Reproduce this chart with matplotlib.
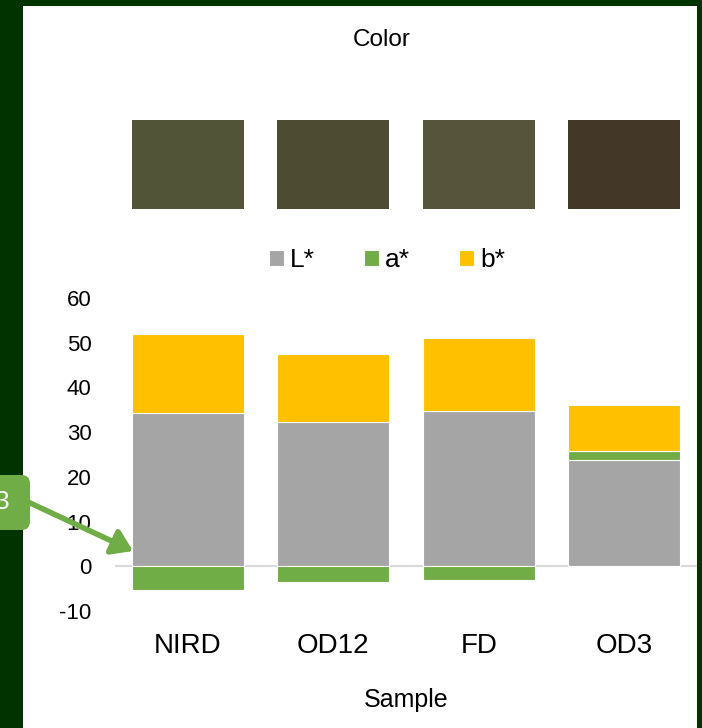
import matplotlib.pyplot as plt
import numpy as np
from matplotlib.patches import Rectangle, FancyBboxPatch, FancyArrowPatch

plt.rcParams['font.family'] = ['Liberation Sans', 'DejaVu Sans']
plt.rcParams['axes.unicode_minus'] = False

# colour measurements per sample
samples = ['NIRD', 'OD12', 'FD', 'OD3']
L_star = [34.2, 32.2, 34.7, 23.7]
a_star = [-5.2, -3.6, -3.1, 2.0]
b_star = [17.7, 15.3, 16.3, 10.3]
swatch_colors = ['#525438', '#4e4b33', '#56553b', '#433828']

W, H = 702, 728
fig = plt.figure(figsize=(W / 100, H / 100), dpi=100, facecolor='#003300')

def fx(px):
    return px / W

def fy(py):
    return 1 - py / H

# white panel
fig.patches.append(Rectangle((fx(23), 0), fx(697) - fx(23), fy(6), transform=fig.transFigure,
                             facecolor='white', edgecolor='none', zorder=-1))

fig.text(fx(382), fy(40), 'Color', ha='center', va='center', fontsize=17.5)

x = np.arange(len(samples))
width = 0.77

# swatches of the measured colour
sw = fig.add_axes([fx(115), fy(209), fx(697) - fx(115), fy(120) - fy(209)])
sw.bar(x, [1] * len(samples), width=width, color=swatch_colors)
sw.set_xlim(-0.5, len(samples) - 0.5)
sw.set_ylim(0, 1)
sw.axis('off')

# stacked L*, a*, b*
ax = fig.add_axes([fx(115), fy(611), fx(697) - fx(115), fy(298) - fy(611)])
ax.patch.set_alpha(0)
L = np.array(L_star)
a = np.array(a_star)
b = np.array(b_star)
a_bottom = np.where(a > 0, L, 0)
b_bottom = L + np.clip(a, 0, None)
ax.bar(x, L, width=width, color='#a5a5a5', edgecolor='white', linewidth=0.8, label='L*')
ax.bar(x, a, width=width, bottom=a_bottom, color='#70ad47', edgecolor='white', linewidth=0.8, label='a*')
ax.bar(x, b, width=width, bottom=b_bottom, color='#ffc000', edgecolor='white', linewidth=0.8, label='b*')
ax.axhline(0, color='#d9d9d9', linewidth=1.5, zorder=0.5)

ax.set_xlim(-0.5, len(samples) - 0.5)
ax.set_ylim(-10, 60)
ax.set_yticks(range(-10, 61, 10))
ax.set_xticks(x)
ax.set_xticklabels(samples, fontsize=20)
ax.tick_params(axis='y', labelsize=16, length=0, pad=17)
ax.tick_params(axis='x', length=0, pad=16)
for s in ax.spines.values():
    s.set_visible(False)
ax.set_xlabel('Sample', fontsize=18, labelpad=21)

ax.legend(loc='center', bbox_to_anchor=(fx(387), fy(260)), bbox_transform=fig.transFigure,
          ncol=3, frameon=False, fontsize=19, handlelength=0.57, handleheight=0.57,
          handletextpad=0.23, columnspacing=1.85)

# callout box with arrow
fig.patches.append(FancyBboxPatch((fx(-30), fy(530)), fx(60), fy(475) - fy(530),
                                  boxstyle='round,pad=0,rounding_size=0.012',
                                  transform=fig.transFigure, facecolor='#70ad47',
                                  edgecolor='none', zorder=5))
fig.text(fx(2), fy(502), '3', ha='center', va='center', fontsize=19, color='white', zorder=6)
fig.patches.append(FancyArrowPatch((fx(28), fy(502)), (fx(133), fy(551)),
                                   transform=fig.transFigure,
                                   arrowstyle='-|>,head_length=12,head_width=8',
                                   color='#70ad47', lw=4, shrinkA=0, shrinkB=0, zorder=6))

fig.savefig('out.png', dpi=100, facecolor=fig.get_facecolor())
